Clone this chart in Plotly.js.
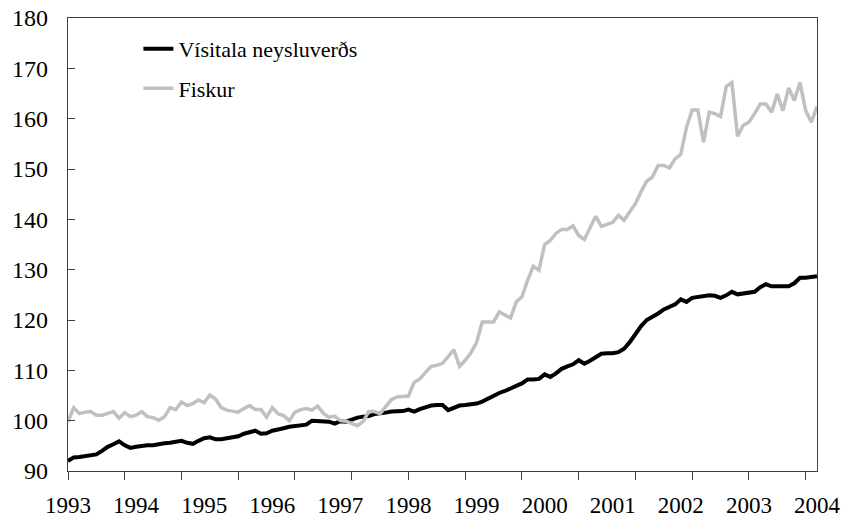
<!DOCTYPE html>
<html>
<head>
<meta charset="utf-8">
<script src="https://cdn.plot.ly/plotly-3.0.1.min.js"></script>
<style>html,body{margin:0;padding:0;background:#fff;}#chart{width:844px;height:521px;}</style>
</head>
<body>
<div id="chart"></div>
<script>
// Monthly observations, Jan 1993 .. Jan 2004 (index 0..132)
const vistala = [
 92.0, 92.7, 92.8, 93.0, 93.1, 93.3, 94.0, 94.8, 95.3, 95.9,
 95.1, 94.6, 94.8, 95.0, 95.1, 95.1, 95.4, 95.5, 95.6, 95.8,
 96.0, 95.6, 95.4, 96.0, 96.5, 96.7, 96.3, 96.3, 96.5, 96.8,
 96.9, 97.4, 97.7, 98.0, 97.4, 97.5, 98.0, 98.2, 98.5, 98.8,
 99.0, 99.1, 99.2, 100.0, 100.0, 100.0, 99.8, 99.4, 99.9, 99.8,
 100.3, 100.6, 100.8, 100.9, 101.3, 101.4, 101.6, 101.8, 101.8, 101.9,
 102.2, 101.8, 102.3, 102.7, 103.0, 103.1, 103.1, 102.1, 102.6, 103.0,
 103.1, 103.2, 103.4, 103.8, 104.4, 104.9, 105.5, 105.9, 106.3, 106.9,
 107.4, 108.2, 108.2, 108.3, 109.2, 108.7, 109.4, 110.3, 110.8, 111.2,
 112.0, 111.3, 111.9, 112.7, 113.3, 113.4, 113.4, 113.6, 114.3, 115.6,
 117.3, 118.8, 120.0, 120.6, 121.3, 122.1, 122.6, 123.1, 124.1, 123.6,
 124.4, 124.6, 124.6, 124.9, 124.8, 124.4, 124.9, 125.6, 125.1, 125.3,
 125.4, 125.6, 126.5, 127.1, 126.7, 126.7, 126.7, 126.7, 127.3, 128.4,
 128.4, 128.6, 128.7
];
const fiskur = [
 99.8, 102.6, 101.4, 101.7, 101.8, 101.1, 101.1, 101.5, 101.8, 100.5,
 101.6, 100.8, 101.1, 101.8, 100.8, 100.6, 100.1, 100.8, 102.6, 102.2,
 103.7, 103.0, 103.4, 104.1, 103.6, 105.1, 104.3, 102.6, 102.1, 101.9,
 101.7, 102.4, 103.0, 102.2, 102.2, 100.7, 102.6, 101.4, 101.0, 100.0,
 101.7, 102.2, 102.4, 102.1, 102.9, 101.5, 100.7, 100.9, 100.0, 99.9,
 99.5, 99.0, 99.8, 101.8, 101.8, 101.4, 102.8, 104.2, 104.7, 104.8,
 104.9, 107.6, 108.3, 109.6, 110.8, 111.0, 111.4, 112.7, 114.1, 110.8,
 112.0, 113.5, 115.5, 119.6, 119.6, 119.6, 121.6, 121.0, 120.4, 123.6,
 124.6, 127.9, 130.7, 129.9, 135.0, 135.8, 137.2, 138.0, 138.0, 138.7,
 136.8, 136.0, 138.5, 140.6, 138.6, 139.0, 139.4, 140.8, 139.8, 141.5,
 143.1, 145.5, 147.6, 148.4, 150.7, 150.7, 150.2, 152.0, 152.9, 158.3,
 161.7, 161.7, 155.3, 161.3, 161.0, 160.4, 166.4, 167.2, 156.5, 158.7,
 159.3, 161.0, 162.9, 162.9, 161.3, 164.9, 161.6, 166.1, 163.6, 167.2,
 161.6, 159.3, 162.4
];
const yearLabels = ["1993","1994","1995","1996","1997","1998","1999","2000","2001","2002","2003","2004"];
const seriesNames = ["Vísitala neysluverðs", "Fiskur"];

const monthIdx = vistala.map((_, i) => i);
const tickMarks = [];
for (let i = 0; i <= 130; i += 10) tickMarks.push(i);
const labelPos = yearLabels.map((_, k) => k * 12);

const serif = "Liberation Serif, Times New Roman, serif";

const traces = [
  {x: monthIdx, y: vistala, type: "scatter", mode: "lines", name: seriesNames[0],
   xaxis: "x", yaxis: "y",
   legendgroup: "a", line: {color: "#000000", width: 4}},
  {x: monthIdx, y: fiskur, type: "scatter", mode: "lines", name: seriesNames[1],
   xaxis: "x2", yaxis: "y",
   legendgroup: "b", line: {color: "#c0c0c0", width: 3.5}}
];

const layout = {
  width: 844, height: 521,
  margin: {l: 68, r: 27, t: 18, b: 50},
  paper_bgcolor: "#ffffff", plot_bgcolor: "#ffffff",
  showlegend: true,
  legend: {x: 0.094, y: 0.978, xanchor: "left", yanchor: "top",
           font: {family: serif, size: 22, color: "#000"},
           bgcolor: "rgba(0,0,0,0)", tracegroupgap: 8},
  xaxis: {range: [0, 132], tickmode: "array", tickvals: tickMarks, showticklabels: false,
          ticks: "outside", ticklen: 8, tickcolor: "#404040", tickwidth: 1,
          showline: true, linecolor: "#404040", linewidth: 1.3, mirror: true,
          showgrid: false, zeroline: false},
  xaxis2: {overlaying: "x", anchor: "y", side: "bottom", range: [0, 132],
           tickmode: "array", tickvals: labelPos, ticktext: yearLabels,
           ticks: "", ticklabelstandoff: 18, showline: false, showgrid: false, zeroline: false,
           tickfont: {family: serif, size: 23, color: "#000"}},
  yaxis: {range: [90, 180], tickmode: "linear", tick0: 90, dtick: 10,
          ticks: "inside", ticklen: 7, tickcolor: "#404040", tickwidth: 1,
          ticklabelstandoff: 14,
          showline: true, linecolor: "#404040", linewidth: 1.3, mirror: true,
          showgrid: false, zeroline: false,
          tickfont: {family: serif, size: 24, color: "#000"}}
};

Plotly.newPlot("chart", traces, layout, {displayModeBar: false, staticPlot: true});
</script>
</body>
</html>
